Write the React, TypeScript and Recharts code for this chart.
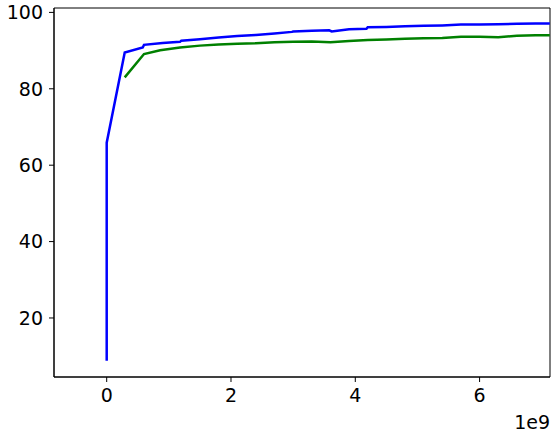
import React from 'react';
import { LineChart, Line, XAxis, YAxis, ReferenceArea } from 'recharts';

// training steps (in units of 1e9) and accuracy values
const blueSteps = [0, 0, 0.29, 0.58, 0.6, 0.9, 1.18, 1.2, 1.5, 1.8, 2.1, 2.4, 2.7, 2.98, 3.0, 3.3, 3.58, 3.62, 3.9, 4.18, 4.2, 4.5, 4.8, 5.1, 5.4, 5.7, 6.0, 6.3, 6.6, 6.9, 7.13];
const blueValues = [8.8, 65.9, 89.5, 90.8, 91.5, 92.0, 92.3, 92.6, 93.0, 93.4, 93.8, 94.1, 94.5, 94.9, 95.0, 95.2, 95.3, 95.0, 95.6, 95.7, 96.1, 96.2, 96.4, 96.5, 96.6, 96.8, 96.8, 96.9, 97.0, 97.1, 97.1];

const greenSteps = [0.29, 0.6, 0.86, 1.18, 1.5, 1.8, 2.1, 2.4, 2.7, 3.0, 3.3, 3.6, 3.9, 4.2, 4.5, 4.8, 5.1, 5.4, 5.7, 6.0, 6.3, 6.6, 6.9, 7.13];
const greenValues = [83.0, 89.1, 90.1, 90.8, 91.3, 91.6, 91.8, 91.9, 92.2, 92.3, 92.4, 92.2, 92.5, 92.8, 92.9, 93.1, 93.2, 93.3, 93.6, 93.6, 93.5, 93.9, 94.0, 94.0];

const xTicks = [0, 2, 4, 6];
const yTicks = [20, 40, 60, 80, 100];

const xDomain = [-0.848, 7.133];
const yDomain = [4.55, 101.15];

const blueData = blueSteps.map((x, i) => ({ x, y: blueValues[i] }));
const greenData = greenSteps.map((x, i) => ({ x, y: greenValues[i] }));

const font = { fontFamily: 'DejaVu Sans', fontSize: 19, fill: '#000' };

export default function App() {
  return (
    <div style={{ position: 'absolute', left: 0, top: 0, width: 558, height: 436, background: '#fff' }}>
      <LineChart width={558} height={436} margin={{ top: 8, right: 8, left: 0, bottom: 0 }}>
        <XAxis
          dataKey="x"
          type="number"
          domain={xDomain}
          ticks={xTicks}
          allowDataOverflow
          height={59}
          tickSize={5}
          tickMargin={7}
          tick={font}
          stroke="#000"
          tickLine={{ stroke: '#000' }}
          axisLine={{ stroke: '#000' }}
        />
        <YAxis
          dataKey="y"
          type="number"
          domain={yDomain}
          ticks={yTicks}
          allowDataOverflow
          width={54}
          tickSize={5}
          tickMargin={6}
          tick={font}
          stroke="#000"
          tickLine={{ stroke: '#000' }}
          axisLine={{ stroke: '#000' }}
        />
        {/* plot frame (top and right spines) */}
        <ReferenceArea x1={xDomain[0]} x2={xDomain[1]} y1={yDomain[0]} y2={yDomain[1]} fill="none" fillOpacity={0} stroke="#000" strokeWidth={1} ifOverflow="visible" />
        <Line data={greenData} dataKey="y" stroke="#008000" strokeWidth={2.5} dot={false} isAnimationActive={false} />
        <Line data={blueData} dataKey="y" stroke="#0000ff" strokeWidth={2.5} dot={false} isAnimationActive={false} />
      </LineChart>
      <div style={{ position: 'absolute', right: 8, top: 411, fontFamily: 'DejaVu Sans', fontSize: 19, color: '#000' }}>1e9</div>
    </div>
  );
}
